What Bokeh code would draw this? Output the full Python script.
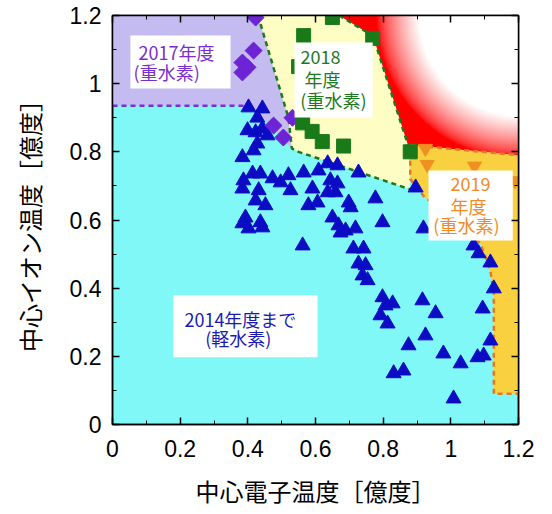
import numpy as np
from bokeh.plotting import figure
from bokeh.models import LinearAxis, FixedTicker, Range1d
from bokeh.core.properties import value
from bokeh.embed import file_html
from bokeh.resources import INLINE

# ---------------- data ----------------
# up to FY2014 (light hydrogen): central electron temperature / central ion temperature [100 million deg]
te_2014 = [0.402, 0.443, 0.428, 0.399, 0.423, 0.443, 0.458, 0.428, 0.417, 0.384,
           0.414, 0.437, 0.387, 0.384, 0.432, 0.423, 0.452, 0.393, 0.384, 0.437,
           0.402, 0.443,
           0.473, 0.497, 0.520, 0.526, 0.565, 0.591, 0.609, 0.579, 0.606, 0.636,
           0.665, 0.644, 0.665, 0.636, 0.659, 0.698, 0.704, 0.727, 0.777, 0.650,
           0.668, 0.689, 0.674, 0.718, 0.798, 0.562, 0.712, 0.742, 0.727, 0.748,
           0.739, 0.754,
           0.798, 0.828, 0.807, 0.792, 0.813, 0.916, 0.955, 0.925, 0.875, 0.831,
           0.860, 0.978, 1.029, 1.008, 1.067, 1.082, 1.117, 1.127, 1.094, 1.117,
           1.079, 1.097, 0.896, 0.919]
ti_2014 = [0.930, 0.927, 0.900, 0.863, 0.857, 0.868, 0.848, 0.824, 0.804, 0.784,
           0.736, 0.736, 0.716, 0.692, 0.687, 0.657, 0.643, 0.607, 0.590, 0.593,
           0.575, 0.578,
           0.722, 0.710, 0.731, 0.687, 0.739, 0.692, 0.745, 0.643, 0.651, 0.766,
           0.760, 0.716, 0.707, 0.681, 0.681, 0.651, 0.637, 0.739, 0.663, 0.607,
           0.584, 0.569, 0.563, 0.575, 0.593, 0.525, 0.516, 0.516, 0.472, 0.467,
           0.437, 0.423,
           0.373, 0.355, 0.349, 0.320, 0.296, 0.364, 0.326, 0.261, 0.232, 0.150,
           0.158, 0.208, 0.179, 0.076, 0.525, 0.502, 0.475, 0.399, 0.340, 0.246,
           0.197, 0.202, 0.695, 0.575]

# FY2017 (deuterium)
te_2017 = [0.423, 0.417, 0.384, 0.399, 0.384, 0.532, 0.476, 0.505]
ti_2017 = [1.194, 1.097, 1.062, 1.048, 1.033, 0.900, 0.877, 0.842]

# FY2018 (deuterium)
te_2018 = [0.650, 0.565, 0.769, 0.742, 0.550, 0.562, 0.590, 0.620, 0.683, 0.880]
ti_2018 = [1.194, 1.141, 1.133, 1.097, 1.050, 0.885, 0.860, 0.830, 0.817, 0.800]

# FY2019 (deuterium)
te_2019 = [0.925, 0.930, 1.070, 1.190]
ti_2019 = [0.810, 0.763, 0.758, 0.715]

# operating-regime regions
reg2017_x = [0.0, 0.43, 0.52, 0.53, 0.41, 0.0]
reg2017_y = [1.2, 1.2, 0.90, 0.81, 0.935, 0.935]
reg2018_x = [0.43, 0.67, 0.77, 0.875, 0.88, 0.55, 0.53, 0.52]
reg2018_y = [1.2, 1.2, 1.14, 0.815, 0.69, 0.80, 0.81, 0.90]
reg_red_x = [0.67, 1.2, 1.2, 0.885, 0.875, 0.77]
reg_red_y = [1.2, 1.2, 0.79, 0.82, 0.815, 1.14]
reg2019_x = [0.88, 1.2, 1.2, 1.127, 1.127, 1.117, 1.088, 0.92, 0.88]
reg2019_y = [0.82, 0.79, 0.09, 0.09, 0.385, 0.45, 0.53, 0.67, 0.72]

# boundary lines
b2017_x = [0.0, 0.41]
b2017_y = [0.935, 0.935]
b2018a_x = [0.43, 0.52, 0.53, 0.55, 0.88]
b2018a_y = [1.2, 0.90, 0.81, 0.80, 0.69]
b2018b_x = [0.67, 0.77, 0.875]
b2018b_y = [1.2, 1.14, 0.815]
b2019a_x = [0.88, 1.2]
b2019a_y = [0.82, 0.79]
b2019b_x = [0.88, 0.88, 0.92, 1.088, 1.117, 1.127, 1.127, 1.2]
b2019b_y = [0.80, 0.72, 0.67, 0.53, 0.45, 0.385, 0.09, 0.09]

ticks = [0, 0.2, 0.4, 0.6, 0.8, 1.0, 1.2]
tick_labels = ["0", "0.2", "0.4", "0.6", "0.8", "1", "1.2"]
minor = [0.1, 0.3, 0.5, 0.7, 0.9, 1.1]

# ---------------- figure ----------------
p = figure(width=544, height=514, output_backend="svg", toolbar_location=None,
           x_range=Range1d(0, 1.2), y_range=Range1d(0, 1.2),
           min_border_left=112, min_border_right=26, min_border_top=15, min_border_bottom=90)
p.background_fill_color = "#80f8f8"
p.border_fill_color = "white"
p.grid.visible = False
p.outline_line_color = "black"
p.outline_line_width = 1.5

JP = value("Noto Sans CJK JP")

# regions
p.patch(reg2017_x, reg2017_y, fill_color="#c4bcf0", line_color=None)
p.patch(reg2018_x, reg2018_y, fill_color="#fefec4", line_color=None)
p.patch(reg_red_x, reg_red_y, fill_color="#ff0000", line_color=None)


def inside(px, py, vx, vy):
    res = np.zeros(px.shape, dtype=bool)
    n = len(vx)
    j = n - 1
    for i in range(n):
        xi, yi, xj, yj = vx[i], vy[i], vx[j], vy[j]
        cond = ((yi > py) != (yj > py))
        with np.errstate(divide="ignore", invalid="ignore"):
            xint = (xj - xi) * (py - yi) / (yj - yi) + xi
        res ^= cond & (px < xint)
        j = i
    return res


# white radial fade in the red region
nx = ny = 240
gx = np.linspace(0.76, 1.2, nx)
gy = np.linspace(0.76, 1.2, ny)
GX, GY = np.meshgrid(gx, gy)
d = np.hypot(1.2 - GX, 1.2 - GY)
a = np.clip((0.42 - d) / 0.125, 0, 1) ** 0.7
a[~inside(GX, GY, reg_red_x, reg_red_y)] = 0
img = np.zeros((ny, nx), dtype=np.uint32)
view = img.view(dtype=np.uint8).reshape((ny, nx, 4))
view[..., 0] = 255
view[..., 1] = 255
view[..., 2] = 255
view[..., 3] = (a * 255).astype(np.uint8)
p.image_rgba(image=[img], x=0.76, y=0.76, dw=0.44, dh=0.44)

p.patch(reg2019_x, reg2019_y, fill_color="#f8d040", line_color=None)

# dashed boundaries
dash = dict(line_width=2.5, line_dash="5 4")
p.line(b2017_x, b2017_y, line_color="#7a30d0", **dash)
p.line(b2018a_x, b2018a_y, line_color="#1e781e", **dash)
p.line(b2018b_x, b2018b_y, line_color="#1e781e", **dash)
p.line(b2019a_x, b2019a_y, line_color="#e87820", **dash)
p.line(b2019b_x, b2019b_y, line_color="#e87820", **dash)

# markers
p.scatter(te_2014, ti_2014, marker="triangle", size=15, fill_color="#0c0cc4", line_color="#0c0cc4")
p.scatter(te_2017, ti_2017, marker="square", angle=np.pi / 4, size=12, fill_color="#6c24d4", line_color="#6c24d4")
p.scatter(te_2018, ti_2018, marker="square", size=14, fill_color="#1a7a1a", line_color="#1a7a1a")
p.scatter(te_2019, ti_2019, marker="inverted_triangle", size=14, fill_color="#f09020", line_color="#f09020")

# label boxes
p.quad(left=[0.053, 0.538, 0.934, 0.180], right=[0.349, 0.769, 1.183, 0.606],
       bottom=[0.986, 0.901, 0.540, 0.197], top=[1.141, 1.121, 0.745, 0.379],
       fill_color="white", line_color=None)

def label(xs, ys, texts, color):
    p.text(xs, ys, text=texts, text_font=JP, text_font_size="18px", text_color=color,
           text_align="center", text_baseline="middle")

label([0.189, 0.160], [1.092, 1.033], ["2017年度", "(重水素)"], "#7a2ed0")
label([0.615, 0.621, 0.653], [1.077, 1.015, 0.951], ["2018", "年度", "(重水素)"], "#1e781e")
label([1.058, 1.052, 1.046], [0.707, 0.640, 0.584], ["2019", "年度", "(重水素)"], "#f08a28")
label([0.378, 0.372], [0.311, 0.255], ["2014年度まで", "(軽水素)"], "#1a1ab0")

# axes
label_over = dict(zip(ticks, tick_labels))
for ax in (p.xaxis[0], p.yaxis[0]):
    ax.ticker = FixedTicker(ticks=ticks, minor_ticks=minor)
    ax.major_label_overrides = label_over
    ax.major_label_text_font = "Liberation Sans"
    ax.major_label_text_font_size = "23px"
    ax.major_label_text_color = "black"
    ax.major_tick_in = 7
    ax.major_tick_out = 0
    ax.minor_tick_in = 4
    ax.minor_tick_out = 0
    ax.axis_line_width = 1.5
    ax.major_tick_line_width = 1.5
    ax.axis_label_text_font = "Noto Sans CJK JP"
    ax.axis_label_text_font_size = "24px"
    ax.axis_label_text_font_style = "normal"
    ax.axis_label_text_color = "black"

p.xaxis[0].axis_label = "中心電子温度［億度］"
p.yaxis[0].axis_label = "中心イオン温度［億度］"
p.xaxis[0].major_label_standoff = 15
p.xaxis[0].axis_label_standoff = 13
p.yaxis[0].major_label_standoff = 11
p.yaxis[0].axis_label_standoff = 20

for loc in ("above", "right"):
    ax = LinearAxis(ticker=FixedTicker(ticks=ticks, minor_ticks=minor))
    ax.major_label_overrides = {t: "" for t in ticks}
    ax.major_label_standoff = 0
    ax.major_tick_in = 7
    ax.major_tick_out = 0
    ax.minor_tick_in = 4
    ax.minor_tick_out = 0
    ax.axis_line_width = 1.5
    ax.major_tick_line_width = 1.5
    p.add_layout(ax, loc)

open("out.html", "w").write(file_html(p, INLINE))
